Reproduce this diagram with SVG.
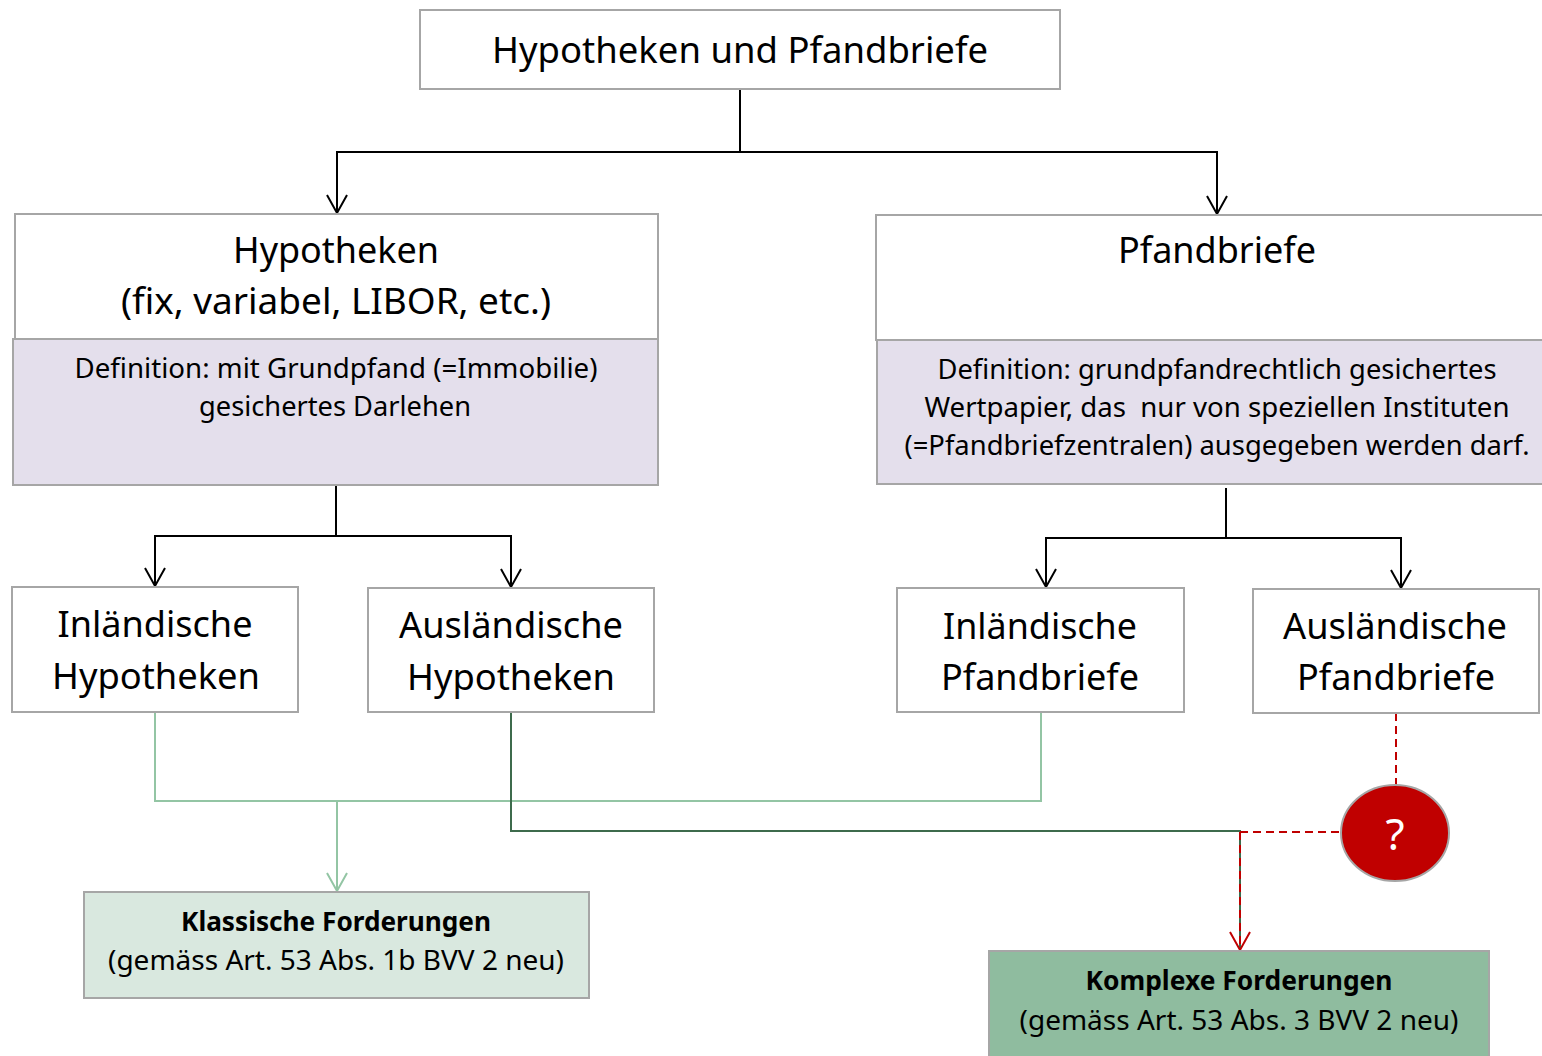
<svg xmlns="http://www.w3.org/2000/svg" width="1542" height="1056" viewBox="0 0 1542 1056">
<style>
.box{fill:#ffffff;stroke:#a6a6a6;stroke-width:2}
.def{fill:#e4dfec;stroke:#a6a6a6;stroke-width:2}
.t{font-family:"Noto Sans","Open Sans","DejaVu Sans",sans-serif;fill:#000;text-anchor:middle}
.big{font-size:36px}
.mid{font-size:27px}
.b{font-weight:bold}
.blk{fill:none;stroke:#000;stroke-width:2}
.lg{fill:none;stroke:#93c5a4;stroke-width:2}
.dg{fill:none;stroke:#3d6b4c;stroke-width:2}
.red{fill:none;stroke:#c00000;stroke-width:2;stroke-dasharray:8 5}
</style>
<defs>
<marker id="aB" markerUnits="userSpaceOnUse" viewBox="-20 -13 26 26" markerWidth="26" markerHeight="26" refX="0" refY="0" orient="auto" overflow="visible">
<path d="M-18,-10 L0,0 L-18,10" fill="none" stroke="#000" stroke-width="2"/>
</marker>
<marker id="aG" markerUnits="userSpaceOnUse" viewBox="-20 -13 26 26" markerWidth="26" markerHeight="26" refX="0" refY="0" orient="auto" overflow="visible">
<path d="M-18,-10 L0,0 L-18,10" fill="none" stroke="#93c5a4" stroke-width="2"/>
</marker>
<marker id="aR" markerUnits="userSpaceOnUse" viewBox="-20 -13 26 26" markerWidth="26" markerHeight="26" refX="0" refY="0" orient="auto" overflow="visible">
<path d="M-18,-10 L0,0 L-18,10" fill="none" stroke="#c00000" stroke-width="2"/>
</marker>
</defs>

<g id="connectors">
<path class="blk" d="M740,89 V152 H337 V213" marker-end="url(#aB)"/>
<path class="blk" d="M740,152 H1217 V214" marker-end="url(#aB)"/>
<path class="blk" d="M336,485 V536 H155 V586" marker-end="url(#aB)"/>
<path class="blk" d="M336,536 H511 V587" marker-end="url(#aB)"/>
<path class="blk" d="M1226,488 V538 H1046 V587" marker-end="url(#aB)"/>
<path class="blk" d="M1226,538 H1401 V588" marker-end="url(#aB)"/>
<path class="lg" d="M155,712 V801 H1041 V712"/>
<path class="lg" d="M337,801 V891" marker-end="url(#aG)"/>
<path class="dg" d="M511,712 V831 H1240 V950"/>
<path class="red" d="M1240,832 V950" marker-end="url(#aR)"/>
<path class="red" d="M1240,832 H1340"/>
<path class="red" d="M1396,713 V785"/>
</g>

<g id="n-top">
<rect class="box" x="420" y="10" width="640" height="79"/>
<text class="t big" x="740" y="63" textLength="496" lengthAdjust="spacingAndGlyphs">Hypotheken und Pfandbriefe</text>
</g>

<g id="n-hypotheken">
<rect class="box" x="15" y="214" width="643" height="125"/>
<text class="t big" x="336" y="263" textLength="206" lengthAdjust="spacingAndGlyphs">Hypotheken</text>
<text class="t big" x="336" y="314" textLength="430" lengthAdjust="spacingAndGlyphs">(fix, variabel, LIBOR, etc.)</text>
<rect class="def" x="13" y="339" width="645" height="146"/>
<text class="t mid" x="336" y="378" textLength="523" lengthAdjust="spacingAndGlyphs">Definition: mit Grundpfand (=Immobilie)</text>
<text class="t mid" x="335" y="416" textLength="272" lengthAdjust="spacingAndGlyphs">gesichertes Darlehen</text>
</g>

<g id="n-pfandbriefe">
<rect class="box" x="876" y="215" width="680" height="125"/>
<text class="t big" x="1217" y="263" textLength="198" lengthAdjust="spacingAndGlyphs">Pfandbriefe</text>
<rect class="def" x="877" y="340" width="680" height="144"/>
<text class="t mid" x="1217" y="379" textLength="559" lengthAdjust="spacingAndGlyphs">Definition: grundpfandrechtlich gesichertes</text>
<text class="t mid" x="1217" y="417" textLength="585" lengthAdjust="spacingAndGlyphs" xml:space="preserve">Wertpapier, das  nur von speziellen Instituten</text>
<text class="t mid" x="1217" y="455" textLength="625" lengthAdjust="spacingAndGlyphs">(=Pfandbriefzentralen) ausgegeben werden darf.</text>
</g>

<g id="n-inl-hyp">
<rect class="box" x="12" y="587" width="286" height="125"/>
<text class="t big" x="155" y="637" textLength="195" lengthAdjust="spacingAndGlyphs">Inländische</text>
<text class="t big" x="156" y="689" textLength="208" lengthAdjust="spacingAndGlyphs">Hypotheken</text>
</g>

<g id="n-ausl-hyp">
<rect class="box" x="368" y="588" width="286" height="124"/>
<text class="t big" x="511" y="638" textLength="224" lengthAdjust="spacingAndGlyphs">Ausländische</text>
<text class="t big" x="511" y="690" textLength="208" lengthAdjust="spacingAndGlyphs">Hypotheken</text>
</g>

<g id="n-inl-pf">
<rect class="box" x="897" y="588" width="287" height="124"/>
<text class="t big" x="1040" y="639" textLength="194" lengthAdjust="spacingAndGlyphs">Inländische</text>
<text class="t big" x="1040" y="690" textLength="198" lengthAdjust="spacingAndGlyphs">Pfandbriefe</text>
</g>

<g id="n-ausl-pf">
<rect class="box" x="1253" y="589" width="286" height="124"/>
<text class="t big" x="1395" y="639" textLength="224" lengthAdjust="spacingAndGlyphs">Ausländische</text>
<text class="t big" x="1396" y="690" textLength="198" lengthAdjust="spacingAndGlyphs">Pfandbriefe</text>
</g>

<g id="n-question">
<ellipse cx="1395" cy="833" rx="54" ry="48" fill="#c00000" stroke="#a6a6a6" stroke-width="2"/>
<text class="t" x="1395" y="850" font-size="44" style="fill:#ffffff">?</text>
</g>

<g id="n-klassisch">
<rect x="84" y="892" width="505" height="106" fill="#d9e8df" stroke="#a6a6a6" stroke-width="2"/>
<text class="t mid b" x="336" y="931" textLength="310" lengthAdjust="spacingAndGlyphs">Klassische Forderungen</text>
<text class="t mid" x="336" y="970" textLength="456" lengthAdjust="spacingAndGlyphs">(gemäss Art. 53 Abs. 1b BVV 2 neu)</text>
</g>

<g id="n-komplex">
<rect x="989" y="951" width="500" height="110" fill="#8fbc9f" stroke="#a6a6a6" stroke-width="2"/>
<text class="t mid b" x="1239" y="990" textLength="307" lengthAdjust="spacingAndGlyphs">Komplexe Forderungen</text>
<text class="t mid" x="1239" y="1030" textLength="439" lengthAdjust="spacingAndGlyphs">(gemäss Art. 53 Abs. 3 BVV 2 neu)</text>
</g>
</svg>
